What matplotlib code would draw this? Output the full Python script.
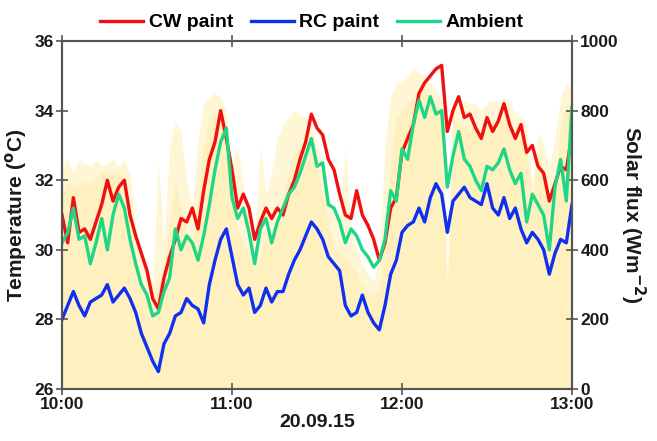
import matplotlib
matplotlib.use("Agg")
import matplotlib.pyplot as plt

plt.rcParams['font.family'] = ['Liberation Sans', 'DejaVu Sans']

# minutes after 10:00, one reading every 2 minutes
minutos = list(range(0, 181, 2))

cw = [31.0, 30.2, 31.5, 30.5, 30.6, 30.3, 30.8, 31.3, 32.0, 31.4,
      31.8, 32.0, 31.0, 30.4, 29.9, 29.4, 28.6, 28.3, 29.2, 29.8,
      30.3, 30.9, 30.8, 31.2, 30.6, 31.7, 32.6, 33.1, 34.0, 33.2,
      32.3, 31.2, 31.6, 31.2, 30.3, 30.8, 31.2, 30.9, 31.2, 31.0,
      31.6, 32.0, 32.6, 33.1, 33.9, 33.5, 33.3, 32.6, 32.3, 31.6,
      31.0, 30.9, 31.7, 31.0, 30.7, 30.3, 29.7, 30.2, 31.2, 31.5,
      32.8, 33.2, 33.6, 34.5, 34.8, 35.0, 35.2, 35.3, 33.4, 34.0,
      34.4, 33.8, 33.9, 33.5, 33.2, 33.8, 33.4, 33.7, 34.2, 33.6,
      33.2, 33.6, 32.8, 33.0, 32.4, 32.2, 31.4, 31.9, 32.4, 32.3,
      33.3]

rc = [28.0, 28.4, 28.8, 28.4, 28.1, 28.5, 28.6, 28.7, 29.0, 28.5,
      28.7, 28.9, 28.6, 28.2, 27.6, 27.2, 26.8, 26.5, 27.3, 27.6,
      28.1, 28.2, 28.6, 28.4, 28.3, 27.9, 29.0, 29.7, 30.3, 30.6,
      29.8, 29.0, 28.7, 28.9, 28.2, 28.4, 28.9, 28.5, 28.8, 28.8,
      29.3, 29.7, 30.0, 30.4, 30.8, 30.6, 30.3, 29.8, 29.6, 29.4,
      28.4, 28.1, 28.2, 28.7, 28.2, 27.9, 27.7, 28.4, 29.3, 29.7,
      30.5, 30.7, 30.8, 31.2, 30.8, 31.5, 31.9, 31.6, 30.5, 31.4,
      31.6, 31.8, 31.5, 31.4, 31.3, 31.9, 31.2, 31.0, 31.5, 30.9,
      31.2, 30.6, 30.2, 30.5, 30.3, 30.0, 29.3, 29.9, 30.3, 30.2,
      31.3]

ambiente = [30.2, 30.5, 31.2, 30.3, 30.4, 29.6, 30.2, 30.9, 30.0, 31.0,
            31.6, 31.2, 30.3, 29.6, 29.0, 28.7, 28.1, 28.2, 28.8, 29.2,
            30.6, 30.0, 30.4, 30.2, 29.7, 30.4, 31.3, 32.3, 33.1, 33.5,
            31.5, 30.9, 31.2, 30.5, 29.6, 30.6, 30.9, 30.2, 30.8, 31.2,
            31.6, 31.8, 32.2, 32.7, 33.2, 32.4, 32.5, 31.3, 31.2, 30.8,
            30.2, 30.6, 30.4, 30.0, 29.8, 29.5, 29.7, 30.3, 31.7, 31.4,
            32.9, 32.6, 33.6, 34.3, 33.8, 34.4, 33.9, 34.0, 31.8, 32.7,
            33.4, 32.6, 32.4, 32.0, 31.7, 32.4, 32.3, 32.5, 32.9, 32.3,
            31.9, 32.2, 30.8, 31.6, 31.3, 31.0, 30.0, 31.8, 32.6, 31.4,
            34.1]

# radiacion solar: nivel sostenido y picos
flujo = [560, 600, 580, 590, 600, 590, 610, 620, 630, 620,
         630, 600, 480, 380, 300, 270, 250, 300, 330, 480,
         600, 520, 450, 420, 560, 700, 780, 800, 780, 700,
         560, 450, 420, 380, 340, 380, 450, 420, 480, 560,
         620, 680, 700, 720, 700, 640, 560, 480, 420, 400,
         380, 360, 330, 300, 280, 270, 290, 420, 650, 780,
         800, 820, 840, 860, 860, 840, 820, 800, 280, 780,
         760, 760, 740, 760, 740, 750, 770, 760, 780, 760,
         740, 720, 700, 540, 680, 620, 560, 600, 760, 820,
         800]

flujo_pico = [640, 660, 620, 660, 650, 640, 660, 640, 650, 660,
              640, 660, 620, 470, 400, 330, 300, 660, 420, 700,
              770, 740, 600, 520, 720, 820, 840, 850, 840, 800,
              640, 700, 580, 500, 420, 700, 560, 620, 720, 760,
              780, 800, 790, 780, 760, 700, 660, 560, 500, 480,
              700, 460, 400, 360, 330, 310, 380, 700, 840, 880,
              880, 900, 920, 910, 900, 880, 860, 830, 300, 820,
              810, 830, 820, 820, 800, 820, 830, 820, 840, 820,
              790, 780, 760, 580, 740, 700, 640, 720, 840, 880,
              860]

horas = ['10:00', '11:00', '12:00', '13:00']

fig = plt.figure(figsize=(6.57, 4.41), dpi=100)
ax = fig.add_axes([0.0944, 0.1179, 0.7762, 0.7891])
ax2 = ax.twinx()

# flux behind the temperatures
ax2.fill_between(minutos, 0, flujo_pico, color='#fff6d6', lw=0)
ax2.fill_between(minutos, 0, flujo, color='#fff1bf', lw=0)
ax2.set_ylim(0, 1000)
ax2.set_yticks([0, 200, 400, 600, 800, 1000])
ax2.set_ylabel('Solar flux (Wm$^{\\mathbf{-2}}$)', fontsize=15, fontweight='bold',
               rotation=270, labelpad=20, color='#1a1a1a')

ax.set_zorder(ax2.get_zorder() + 1)
ax.patch.set_visible(False)

ax.plot(minutos, cw, color='#f01010', lw=2.4, label='CW paint')
ax.plot(minutos, rc, color='#1030f0', lw=2.4, label='RC paint')
ax.plot(minutos, ambiente, color='#1fd586', lw=2.4, label='Ambient')

ax.set_xlim(0, 180)
ax.set_ylim(26, 36)
ax.set_yticks([26, 28, 30, 32, 34, 36])
ax.set_xticks([0, 60, 120, 180])
ax.set_xticklabels(horas)
ax.set_xlabel('20.09.15', fontsize=14, fontweight='bold', color='#1a1a1a', labelpad=1)
ax.set_ylabel('Temperature ($^{\\mathbf{o}}$C)', fontsize=15, fontweight='bold',
              color='#1a1a1a', labelpad=4)

for a in (ax, ax2):
    for s in a.spines.values():
        s.set_color('#555555')
        s.set_linewidth(1.5)
    a.tick_params(direction='inout', length=8, width=1.2, color='#555555',
                  labelsize=12.5, labelcolor='#1a1a1a', pad=2)
    for lab in a.get_xticklabels() + a.get_yticklabels():
        lab.set_fontweight('bold')
ax.tick_params(axis='x', top=True, labeltop=False)

ax.legend(loc='lower center', bbox_to_anchor=(0.49, 1.005), ncol=3, frameon=False,
          prop={'size': 14, 'weight': 'bold'}, handlelength=2.2, handletextpad=0.3,
          columnspacing=0.9, borderaxespad=0.0)

fig.savefig('out.png', dpi=100)
